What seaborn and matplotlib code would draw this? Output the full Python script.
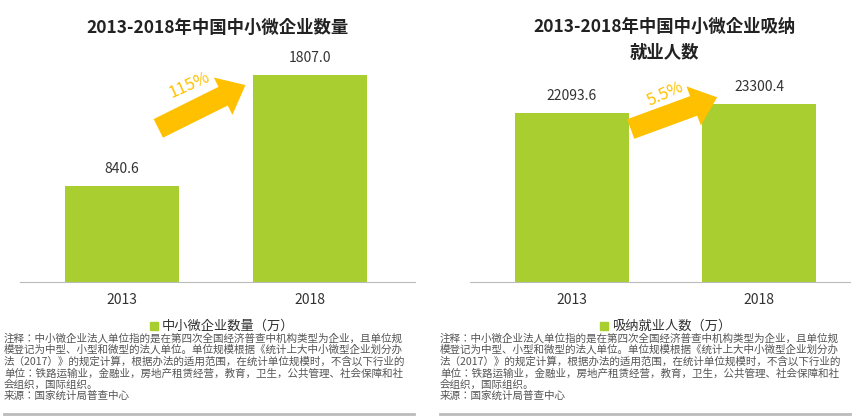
import matplotlib
matplotlib.use("Agg")
import matplotlib.pyplot as plt
from matplotlib import font_manager
import seaborn as sns
import pandas as pd

cands = [f.name for f in font_manager.fontManager.ttflist if "CJK" in f.name]
cjk = "Noto Sans CJK SC" if "Noto Sans CJK SC" in cands else (cands[0] if cands else "DejaVu Sans")
plt.rcParams["font.family"] = "sans-serif"
plt.rcParams["font.sans-serif"] = [cjk, "Noto Sans CJK JP", "DejaVu Sans"]

years = ["2013", "2018"]
firms = [840.6, 1807.0]
jobs = [22093.6, 23300.4]
growth_labels = ["115%", "5.5%"]
titles = ["2013-2018年中国中小微企业数量", "2013-2018年中国中小微企业吸纳\n就业人数"]
legend_labels = ["中小微企业数量（万）", "吸纳就业人数（万）"]
note = ("注释：中小微企业法人单位指的是在第四次全国经济普查中机构类型为企业，且单位规\n"
        "模登记为中型、小型和微型的法人单位。单位规模根据《统计上大中小微型企业划分办\n"
        "法（2017）》的规定计算，根据办法的适用范围，在统计单位规模时，不含以下行业的\n"
        "单位：铁路运输业，金融业，房地产租赁经营，教育，卫生，公共管理、社会保障和社\n"
        "会组织，国际组织。\n"
        "来源：国家统计局普查中心")

GREEN = "#A8CF2F"
YELLOW = "#FFC000"
W, H = 857, 417
fig = plt.figure(figsize=(W/100, H/100), dpi=100)

specs = [
    dict(vals=firms, rect=(20, 415), cen=(122, 310), ymax=1938,
         arrow=((0.18, 1330), (0.67, 1730)), txt=(0.36, 1720), lx=150, nx=4),
    dict(vals=jobs, rect=(470, 850), cen=(572, 759), ymax=29060,
         arrow=((0.30, 19900), (0.79, 24300)), txt=(0.50, 24600), lx=600, nx=440),
]
for i, s in enumerate(specs):
    x0, x1 = s["rect"]
    ax = fig.add_axes([x0/W, (417-282)/H, (x1-x0)/W, 222/H])
    df = pd.DataFrame({"year": years, "v": s["vals"]})
    sns.barplot(data=df, x="year", y="v", color=GREEN, saturation=1, width=0.61, ax=ax)
    sp = s["cen"][1]-s["cen"][0]
    ax.set_xlim(-(s["cen"][0]-x0)/sp, 1+(x1-s["cen"][1])/sp)
    ax.set_ylim(0, s["ymax"])
    for k, v in enumerate(s["vals"]):
        ax.text(k, v + s["ymax"]*0.045, "{:.1f}".format(v), ha="center", va="bottom",
                fontsize=10, color="#333333")
    for side in ["top", "right", "left"]:
        ax.spines[side].set_visible(False)
    ax.spines["bottom"].set_color("#BBBBBB")
    ax.set_yticks([])
    ax.set_xlabel(""); ax.set_ylabel("")
    ax.tick_params(axis="x", length=0, labelsize=10, colors="#333333", pad=8)
    ax.annotate("", xy=s["arrow"][1], xytext=s["arrow"][0],
                arrowprops=dict(arrowstyle="simple,head_width=1.5,head_length=0.9,tail_width=0.75",
                                mutation_scale=20, color=YELLOW, lw=0))
    ax.text(*s["txt"], growth_labels[i], rotation=24, color=YELLOW, fontsize=12,
            ha="center", va="center")
    fig.text((x0+x1)/2/W if i == 0 else 0.775, 1-(28 if i == 0 else 40)/H, titles[i],
             ha="center", va="center", fontsize=12.5, fontweight="bold", color="#222222",
             linespacing=1.6)
    fig.patches.append(plt.Rectangle((s["lx"]/W, 1-330/H), 8/W, 8/H, color=GREEN,
                                     transform=fig.transFigure, figure=fig))
    fig.text((s["lx"]+12)/W, 1-326/H, legend_labels[i], fontsize=9.5, va="center", color="#333333")
    fig.text(s["nx"]/W, 1-333/H, note, fontsize=7.6, va="top", color="#555555", linespacing=1.15)
    fig.add_artist(plt.Line2D([s["nx"]/W, (s["nx"]+410)/W], [1-414/H]*2, color="#BBBBBB", lw=2))

fig.savefig("out.png", dpi=100)
